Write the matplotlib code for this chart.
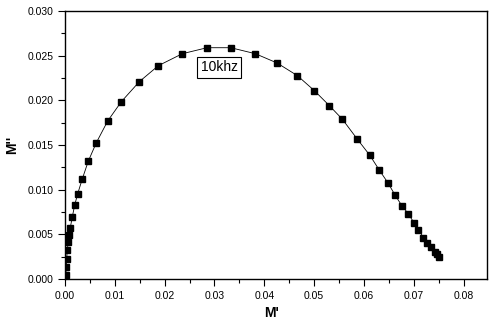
import matplotlib
matplotlib.use("Agg")
import matplotlib.pyplot as plt
from matplotlib.ticker import MultipleLocator, FormatStrFormatter

# M' / M'' data at 10 kHz
m_real = [0.00006, 0.00014, 0.00026, 0.00034, 0.00046, 0.00066, 0.00086, 0.00106,
          0.00147, 0.00195, 0.00255, 0.00347, 0.00468, 0.00629, 0.00857, 0.01131,
          0.01492, 0.01874, 0.02355, 0.02851, 0.03327, 0.03821, 0.04257, 0.04665,
          0.05006, 0.05307, 0.05568, 0.05869, 0.06118, 0.06311, 0.06480, 0.06627,
          0.06761, 0.06894, 0.07002, 0.07094, 0.07195, 0.07275, 0.07343, 0.07424,
          0.07476, 0.07510]
m_imag = [0.00010, 0.00045, 0.00138, 0.00227, 0.00325, 0.00418, 0.00496, 0.00574,
          0.00697, 0.00828, 0.00955, 0.01120, 0.01320, 0.01526, 0.01769, 0.01985,
          0.02209, 0.02388, 0.02522, 0.02589, 0.02589, 0.02522, 0.02418, 0.02276,
          0.02108, 0.01940, 0.01788, 0.01564, 0.01385, 0.01217, 0.01078, 0.00937,
          0.00821, 0.00728, 0.00631, 0.00552, 0.00463, 0.00406, 0.00355, 0.00306,
          0.00280, 0.00250]

plt.rcParams['font.family'] = ['Liberation Sans', 'DejaVu Sans']

fig = plt.figure(figsize=(4.95, 3.25), dpi=100)
ax = fig.add_axes([65 / 495, 1 - 279 / 325, 422 / 495, 268 / 325])

ax.plot(m_real, m_imag, color='black', linewidth=0.6, marker='s',
        markersize=5, markerfacecolor='black', markeredgecolor='black')

ax.set_xlim(0, 0.0847)
ax.set_ylim(0, 0.030)
ax.xaxis.set_major_locator(MultipleLocator(0.01))
ax.xaxis.set_minor_locator(MultipleLocator(0.005))
ax.yaxis.set_major_locator(MultipleLocator(0.005))
ax.yaxis.set_minor_locator(MultipleLocator(0.0025))
ax.xaxis.set_major_formatter(FormatStrFormatter('%.2f'))
ax.yaxis.set_major_formatter(FormatStrFormatter('%.3f'))
ax.tick_params(which='major', direction='out', length=5, width=0.8, labelsize=7.5,
               top=False, right=False)
ax.tick_params(which='minor', direction='out', length=3, width=0.8,
               top=False, right=False)
for s in ax.spines.values():
    s.set_linewidth(1.0)

ax.set_xlabel("M'", fontsize=10, fontweight='bold')
ax.set_ylabel("M''", fontsize=10, fontweight='bold')
ax.xaxis.set_label_coords(0.49, -0.10)
ax.yaxis.set_label_coords(-0.108, 0.5)

ax.text(0.0310, 0.0237, '10khz', fontsize=10, ha='center', va='center',
        bbox=dict(boxstyle='square,pad=0.25', facecolor='white', edgecolor='black',
                  linewidth=0.8))

fig.savefig('out.png', dpi=100)
